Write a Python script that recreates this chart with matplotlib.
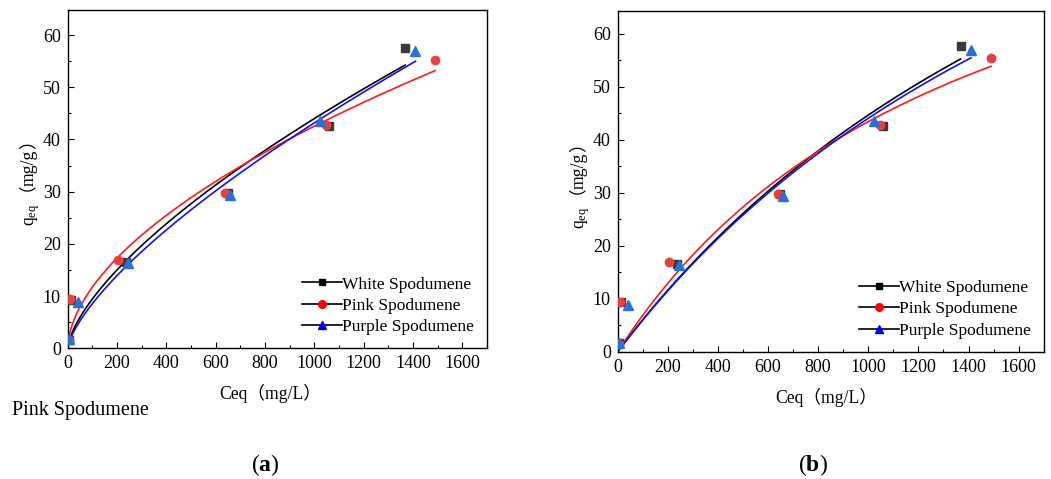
import numpy as np
import matplotlib
matplotlib.use('Agg')
import matplotlib.pyplot as plt
from matplotlib.lines import Line2D
from matplotlib.ticker import MultipleLocator
from matplotlib.font_manager import FontProperties, findfont, get_font

plt.rcParams['font.family'] = ['Liberation Serif', 'Noto Sans CJK SC']
plt.rcParams['mathtext.fontset'] = 'custom'
plt.rcParams['mathtext.rm'] = 'Liberation Serif'
plt.rcParams['mathtext.bf'] = 'Liberation Serif:bold'

# Datos de equilibrio (Ceq en mg/L, qeq en mg/g)
labels = ['White Spodumene', 'Pink Spodumene', 'Purple Spodumene']
ceq_white = [5, 15, 235, 648, 1060, 1368]
qeq_white = [1.6, 9.3, 16.5, 29.7, 42.6, 57.6]
ceq_pink = [4, 8, 205, 638, 1048, 1490]
qeq_pink = [1.5, 9.4, 17.0, 29.7, 42.8, 55.3]
ceq_purple = [6, 40, 245, 660, 1022, 1410]
qeq_purple = [1.7, 8.8, 16.3, 29.4, 43.5, 56.9]

# Parámetros de ajuste: Freundlich (a) y Langmuir (b)
freundlich_k = [0.436, 0.889, 0.336]
freundlich_n = [0.668, 0.560, 0.703]
langmuir_qm = [154.8, 105.8, 150.6]
langmuir_kl = [0.000405, 0.000695, 0.000413]

marker_colors = ['#3a3a3a', '#e8403e', '#2b6fd8']
line_colors = ['black', '#ff1a1a', '#1010ff']
legend_colors = ['black', '#ff0000', '#0000ff']
markers = ['s', 'o', '^']
msizes = [5.5, 6, 6.5]

ceqs = [ceq_white, ceq_pink, ceq_purple]
qeqs = [qeq_white, qeq_pink, qeq_purple]

W, H = 1051, 479
DPI = 100
fig = plt.figure(figsize=(W / DPI, H / DPI), dpi=DPI)
renderer = fig.canvas.get_renderer()

ax_a = fig.add_axes([67.7 / W, 1 - 348.3 / H, 419.3 / W, 338.3 / H])
ax_b = fig.add_axes([617.7 / W, 1 - 351.7 / H, 426 / W, 341 / H])


def freundlich(c, k, n):
    return k * np.power(c, n)


def langmuir(c, qm, kl):
    return qm * kl * c / (1 + kl * c)


def ink_offset(s, family, size):
    # desplazamiento del primer trazo respecto al origen (en px)
    font = get_font(findfont(FontProperties(family=family)))
    font.set_size(size, DPI)
    font.set_text(s, 0.0)
    return font.get_bitmap_offset()[0] / 64.0


def vertical_label(x, y, parts, size):
    # trozos girados 90° apilados de abajo hacia arriba sobre la misma línea base (px)
    for s, fam, is_math in parts:
        xo = 0.0 if is_math else ink_offset(s, fam, size)
        t = fig.text((x - xo) / W, (y + xo) / H, s, rotation=90, rotation_mode='anchor',
                     ha='left', va='baseline', fontsize=size, family=fam)
        y += t.get_window_extent(renderer).height


for i in range(3):
    c = np.linspace(min(ceqs[i]), max(ceqs[i]), 300)
    ax_a.plot(c, freundlich(c, freundlich_k[i], freundlich_n[i]),
              color=line_colors[i], lw=1.2, zorder=2)
    c = np.linspace(0, max(ceqs[i]), 300)
    ax_b.plot(c, langmuir(c, langmuir_qm[i], langmuir_kl[i]),
              color=line_colors[i], lw=1.2, zorder=2)

for ax, ymax in [(ax_a, 64.8), (ax_b, 64.3)]:
    for i in range(3):
        ax.plot(ceqs[i], qeqs[i], ls='none', marker=markers[i], ms=msizes[i],
                color=marker_colors[i], mec=marker_colors[i], zorder=3)
    ax.set_xlim(0, 1700)
    ax.set_ylim(0, ymax)
    ax.xaxis.set_major_locator(MultipleLocator(200))
    ax.xaxis.set_minor_locator(MultipleLocator(100))
    ax.yaxis.set_major_locator(MultipleLocator(10))
    ax.yaxis.set_minor_locator(MultipleLocator(5))
    ax.tick_params(which='both', direction='in', labelsize=13, width=0.8)
    ax.tick_params(which='major', length=4.5, pad=5)
    ax.tick_params(which='minor', length=2.5)
    for s in ax.spines.values():
        s.set_linewidth(1.0)

    handles = [Line2D([], [], color='black', lw=1.2, marker=markers[i], ms=msizes[i] - 0.5,
                      mfc=legend_colors[i], mec=legend_colors[i]) for i in range(3)]
    ax.legend(handles, labels, loc='lower right', frameon=False, fontsize=12.5,
              handlelength=2.3, handletextpad=0.0, labelspacing=0.3,
              borderaxespad=0.35)

# Etiquetas de ejes
fig.text(270 / W, 1 - 393 / H, 'Ceq（mg/L）', ha='center', va='center', fontsize=12.7)
fig.text(826 / W, 1 - 397 / H, 'Ceq（mg/L）', ha='center', va='center', fontsize=12.7)
ylabel_parts = [(r'$\mathrm{q_{eq}}$', 'Liberation Serif', True),
                ('（', 'Noto Sans CJK SC', False),
                ('mg/g', 'Liberation Serif', False),
                ('）', 'Noto Sans CJK SC', False)]
vertical_label(34, H - 226, ylabel_parts, 12.7)
vertical_label(584, H - 229, ylabel_parts, 12.7)

fig.text(12 / W, 1 - 411 / H, 'Pink Spodumene', ha='left', va='center', fontsize=14.5)
fig.text(265 / W, 1 - 465 / H, r'($\mathbf{a}$)', ha='center', va='center', fontsize=17)
fig.text(813 / W, 1 - 465 / H, r'($\mathbf{b}$)', ha='center', va='center', fontsize=17)

fig.savefig('out.png', dpi=DPI)
